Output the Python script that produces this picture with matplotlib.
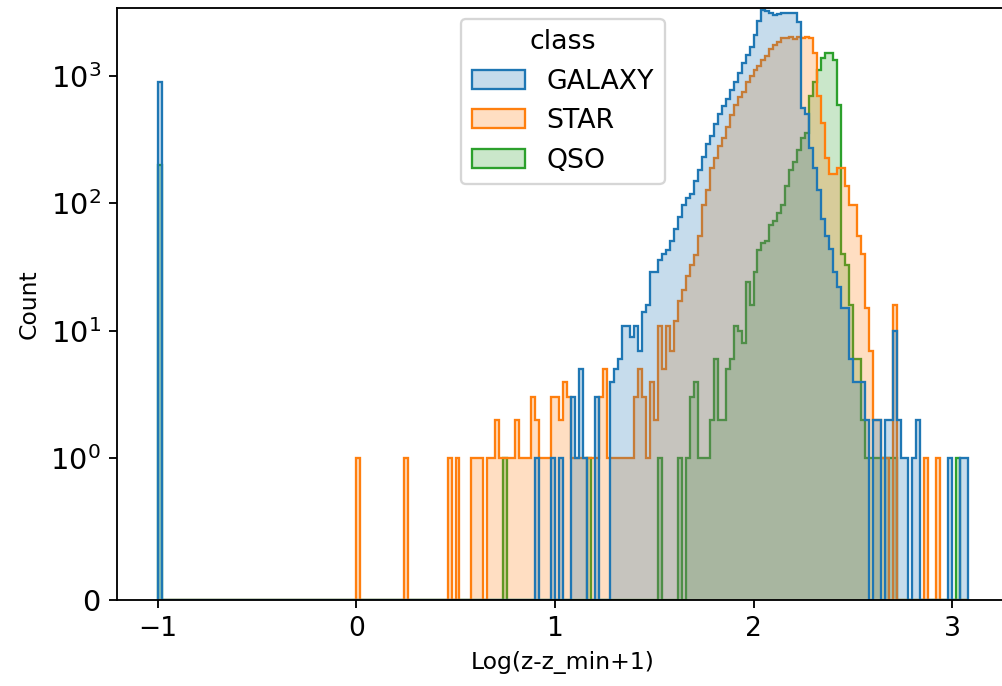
import numpy as np
import matplotlib
matplotlib.use("Agg")
import matplotlib.pyplot as plt
from matplotlib.patches import Patch
from matplotlib.colors import to_rgba

# ---- data ----
BIN_START = -1.0
BIN_WIDTH = 0.02
N_BINS = 204

classes = ["GALAXY", "STAR", "QSO"]
colors = ["#1f77b4", "#ff7f0e", "#2ca02c"]
x_ticks = [-1, 0, 1, 2, 3]

# bin index -> count (bins not listed are empty)
galaxy_counts = {
    0: 900,
    95: 1, 99: 1, 101: 1, 104: 3, 105: 1, 106: 5, 107: 1, 110: 3,
    114: 4, 115: 5, 116: 6, 117: 11, 118: 11, 119: 9, 120: 11, 121: 7,
    122: 14, 123: 16, 124: 29, 125: 29, 126: 36, 127: 40, 128: 43, 129: 51,
    130: 63, 131: 78, 132: 97, 133: 111, 134: 119, 135: 150, 136: 183,
    137: 230, 138: 290, 139: 340, 140: 420, 141: 500, 142: 580, 143: 660,
    144: 770, 145: 900, 146: 1050, 147: 1250, 148: 1450, 149: 1690,
    150: 2100, 151: 2700, 152: 3300, 153: 3200, 154: 3100, 155: 2970,
    156: 3050, 157: 3080, 158: 3080, 159: 3080, 160: 3100, 161: 2650,
    162: 560, 163: 500, 164: 269, 165: 190, 166: 128, 167: 75, 168: 55,
    169: 44, 170: 29, 171: 22, 172: 15, 173: 15, 174: 6, 175: 4, 176: 4,
    177: 4, 178: 2, 180: 2, 181: 2, 183: 2, 184: 2, 185: 10, 186: 2,
    187: 1, 188: 1, 190: 1, 191: 2, 199: 1, 202: 1, 203: 1,
}

star_counts = {
    50: 1, 62: 1, 73: 1, 75: 1, 79: 1, 80: 1, 81: 1, 83: 1, 84: 1, 85: 2,
    86: 1, 87: 1, 88: 1, 89: 1, 90: 2, 91: 1, 92: 1, 93: 1, 94: 3, 95: 2,
    96: 1, 97: 1, 98: 1, 99: 3, 100: 3, 101: 2, 102: 4, 103: 3, 104: 1,
    105: 1, 106: 1, 107: 1, 108: 1, 109: 1, 110: 1, 111: 3, 112: 5, 113: 1,
    114: 1, 115: 1, 116: 1, 117: 1, 118: 1, 119: 1, 120: 3, 121: 5, 122: 3,
    123: 1, 124: 4, 125: 2, 126: 11, 127: 5, 128: 11, 129: 7, 130: 12,
    131: 17, 132: 21, 133: 27, 134: 33, 135: 39, 136: 55, 137: 97, 138: 128,
    139: 190, 140: 226, 141: 279, 142: 323, 143: 395, 144: 490, 145: 590,
    146: 680, 147: 750, 148: 890, 149: 1000, 150: 1100, 151: 1190,
    152: 1320, 153: 1420, 154: 1630, 155: 1750, 156: 1850, 157: 1990,
    158: 1990, 159: 2000, 160: 1950, 161: 2000, 162: 1990, 163: 2000,
    164: 1990, 165: 1520, 166: 700, 167: 425, 168: 226, 169: 170, 170: 170,
    171: 190, 172: 190, 173: 137, 174: 97, 175: 97, 176: 55, 177: 40,
    178: 15, 179: 7, 180: 2, 181: 2, 182: 1, 183: 1, 185: 16, 193: 1, 196: 1,
}

qso_counts = {
    0: 200, 87: 1, 108: 1, 126: 1, 131: 1, 133: 1, 134: 3, 135: 4, 136: 1,
    137: 1, 138: 1, 139: 2, 140: 6, 141: 2, 142: 2, 143: 5, 144: 6, 145: 11,
    146: 10, 147: 8, 148: 24, 149: 16, 150: 29, 151: 43, 152: 49, 153: 51,
    154: 68, 155: 73, 156: 84, 157: 97, 158: 137, 159: 183, 160: 211,
    161: 260, 162: 323, 163: 358, 164: 700, 165: 890, 166: 1100, 167: 1370,
    168: 1520, 169: 1520, 170: 1320, 171: 590, 172: 40, 173: 33, 174: 16,
    175: 6, 176: 6, 177: 2, 178: 1, 179: 1, 180: 1, 181: 1, 182: 1, 183: 1,
    184: 1, 185: 1, 201: 1,
}

# ---- figure ----
DPI = 166
fig = plt.figure(figsize=(1003 / DPI, 686 / DPI), dpi=DPI)
ax = fig.add_axes([117 / 1003, 1 - 600 / 686, (1008.6 - 117) / 1003, 592 / 686])

edges = BIN_START + BIN_WIDTH * np.arange(N_BINS + 1)
series = [galaxy_counts, star_counts, qso_counts]

# seaborn draws hue levels in reverse order (first level on top)
for name, color, data in reversed(list(zip(classes, colors, series))):
    vals = np.zeros(N_BINS)
    for k, v in data.items():
        vals[k] = v
    ax.stairs(vals, edges, fill=True, facecolor=to_rgba(color, 0.25),
              edgecolor=color, linewidth=1.0)

ax.set_yscale("symlog", linthresh=1)
ax.set_ylim(0, 3400)
ax.set_xlim(-1.204, 3.284)
ax.set_xticks(x_ticks)
ax.tick_params(axis="x", labelsize=11.5)
ax.tick_params(axis="y", labelsize=12.5)
ax.set_xlabel("Log(z-z_min+1)", fontsize=10.2)
ax.set_ylabel("Count", fontsize=10.2)

handles = [Patch(facecolor=to_rgba(c, 0.25), edgecolor=c, label=n)
           for n, c in zip(classes, colors)]
ax.legend(handles=handles, title="class", loc="upper center",
          fontsize=11.6, title_fontsize=11.6, borderaxespad=0.4)

fig.savefig("out.png", dpi=DPI)
